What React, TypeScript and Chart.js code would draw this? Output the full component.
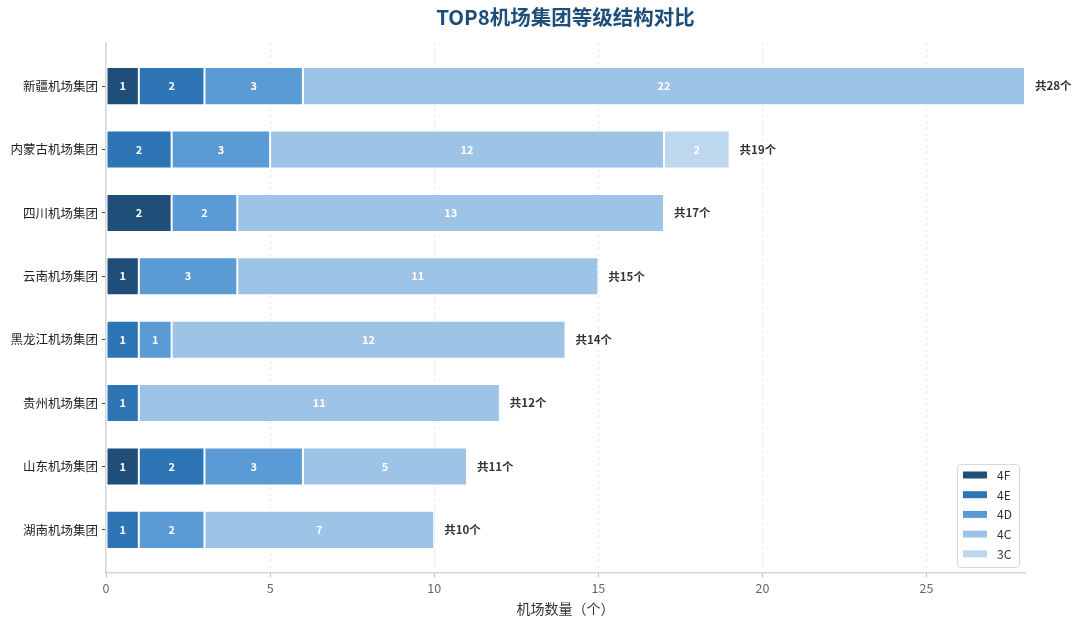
import React, { useEffect, useRef } from "react";
import { Chart, registerables } from "chart.js";

Chart.register(...registerables);

const categories = ["新疆机场集团", "内蒙古机场集团", "四川机场集团", "云南机场集团", "黑龙江机场集团", "贵州机场集团", "山东机场集团", "湖南机场集团"];
const seriesNames = ["4F", "4E", "4D", "4C", "3C"];
const s4F = [1, 0, 2, 1, 0, 0, 1, 0];
const s4E = [2, 2, 0, 0, 1, 1, 2, 1];
const s4D = [3, 3, 2, 3, 1, 0, 3, 2];
const s4C = [22, 12, 13, 11, 12, 11, 5, 7];
const s3C = [0, 2, 0, 0, 0, 0, 0, 0];
const xTicks = [0, 5, 10, 15, 20, 25];
const colors = ["#1f4e79", "#2e75b6", "#5b9bd5", "#9dc3e6", "#bdd7ee"];

const FONT = '"Noto Sans CJK SC", "Noto Sans", sans-serif';

export default function App() {
  const ref = useRef<HTMLCanvasElement | null>(null);
  useEffect(() => {
    const canvas = ref.current;
    if (!canvas) return;
    const all = [s4F, s4E, s4D, s4C, s3C];
    const totals = categories.map((_, i) => all.reduce((a, s) => a + s[i], 0));

    const labelsPlugin = {
      id: "labels",
      afterDatasetsDraw(chart: any) {
        const ctx = chart.ctx;
        ctx.save();
        ctx.textAlign = "center";
        ctx.textBaseline = "middle";
        ctx.font = `bold 11px ${FONT}`;
        ctx.fillStyle = "#ffffff";
        chart.data.datasets.forEach((ds: any, di: number) => {
          const meta = chart.getDatasetMeta(di);
          meta.data.forEach((el: any, i: number) => {
            const v = ds.data[i].x;
            if (!v) return;
            const c = el.getCenterPoint();
            ctx.fillText(String(v), c.x, c.y);
          });
        });
        const xs = chart.scales.x;
        const ys = chart.scales.y;
        ctx.textAlign = "left";
        ctx.fillStyle = "#333333";
        ctx.font = `bold 11.5px ${FONT}`;
        totals.forEach((t, i) => {
          ctx.fillText(`共${t}个`, xs.getPixelForValue(t) + 10, ys.getPixelForValue(i));
        });
        ctx.restore();
      },
      afterDraw(chart: any) {
        const ctx = chart.ctx;
        const ca = chart.chartArea;
        ctx.save();
        ctx.fillStyle = "#1f4e79";
        ctx.font = `bold 20.5px ${FONT}`;
        ctx.textAlign = "center";
        ctx.textBaseline = "middle";
        ctx.fillText("TOP8机场集团等级结构对比", (ca.left + ca.right) / 2, 17);
        const w = 62, h = 103;
        const x0 = ca.right - 6 - w;
        const y0 = ca.bottom - 6 - h;
        ctx.fillStyle = "rgba(255,255,255,0.85)";
        ctx.strokeStyle = "#d9d9d9";
        ctx.lineWidth = 1;
        ctx.beginPath();
        (ctx as any).roundRect(x0 + 0.5, y0 + 0.5, w, h, 3);
        ctx.fill();
        ctx.stroke();
        ctx.textAlign = "left";
        ctx.font = `12px ${FONT}`;
        seriesNames.forEach((n, i) => {
          const cy = y0 + 11 + i * 19.7;
          ctx.fillStyle = colors[i];
          ctx.fillRect(x0 + 6, cy - 3.5, 24, 7);
          ctx.fillStyle = "#333333";
          ctx.fillText(n, x0 + 40, cy + 0.5);
        });
        ctx.restore();
      },
    };

    const chart = new Chart(canvas, {
      type: "bar",
      data: {
        datasets: seriesNames.map((n, si) => ({
          label: n,
          data: all[si].map((v, i) => ({ x: v, y: i })),
          backgroundColor: colors[si],
          borderColor: "#ffffff",
          borderWidth: 1,
          borderSkipped: false,
          barPercentage: 0.6,
          categoryPercentage: 1,
        })),
      },
      plugins: [labelsPlugin],
      options: {
        indexAxis: "y",
        responsive: false,
        animation: false,
        layout: { padding: { top: 43, right: 55, left: 0, bottom: 0 } },
        plugins: {
          legend: { display: false },
          title: { display: false },
          tooltip: { enabled: false },
        },
        scales: {
          x: {
            type: "linear",
            stacked: true,
            min: 0,
            max: 28,
            offset: false,
            bounds: "data",
            afterBuildTicks: (s: any) => {
              s.ticks = xTicks.map((v) => ({ value: v }));
            },
            afterFit: (s: any) => {
              s.height = 53;
            },
            grid: {
              color: "#e8e8e8",
              tickColor: "#bbbbbb",
              tickLength: 4,
              lineWidth: 1,
              offset: false,
            },
            border: { display: true, color: "#d6d6d6", width: 1.5, dash: [3, 3] },
            ticks: { font: { family: FONT, size: 12.5 }, color: "#666666", padding: 4 },
            title: {
              display: true,
              text: "机场数量（个）",
              font: { family: FONT, size: 14 },
              color: "#333333",
              padding: { top: 2, bottom: 9 },
            },
          },
          y: {
            type: "linear",
            stacked: true,
            reverse: true,
            min: -0.68,
            max: 7.68,
            offset: false,
            bounds: "data",
            afterBuildTicks: (s: any) => {
              s.ticks = categories.map((_, i) => ({ value: i }));
            },
            afterFit: (s: any) => {
              s.width = 106;
            },
            grid: { drawOnChartArea: false, tickLength: 4, color: "#444444", offset: false },
            border: { display: true, color: "#d6d6d6", width: 1.5 },
            ticks: {
              font: { family: FONT, size: 12.5 },
              color: "#222222",
              padding: 4,
              callback: (v: any) => categories[Math.round(v)] ?? "",
            },
          },
        },
      } as any,
    });
    return () => chart.destroy();
  }, []);

  return (
    <div style={{ position: "fixed", left: 0, top: 0, width: 1080, height: 626, background: "#fff" }}>
      <canvas ref={ref} width={1080} height={626} style={{ width: 1080, height: 626 }} />
    </div>
  );
}
